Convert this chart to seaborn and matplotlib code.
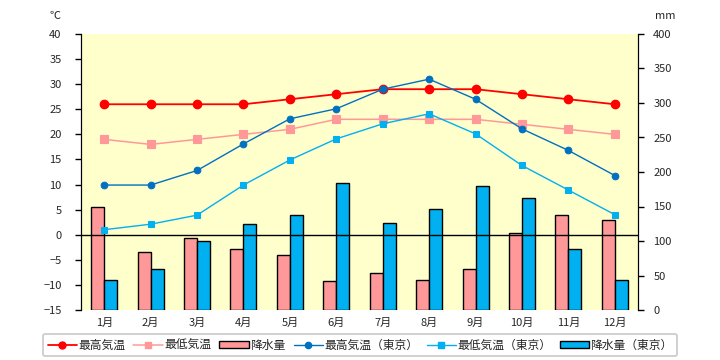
import numpy as np
import pandas as pd
import matplotlib
matplotlib.use("Agg")
import matplotlib.pyplot as plt
import seaborn as sns
from matplotlib.lines import Line2D
from matplotlib.patches import Patch

# データ
months = ["1月", "2月", "3月", "4月", "5月", "6月", "7月", "8月", "9月", "10月", "11月", "12月"]
max_temp = [26, 26, 26, 26, 27, 28, 29, 29, 29, 28, 27, 26]
min_temp = [19, 18, 19, 20, 21, 23, 23, 23, 23, 22, 21, 20]
rain = [149, 84, 105, 88, 79, 42, 53, 44, 59, 111, 137, 130]
max_temp_tokyo = [9.9, 9.9, 12.8, 18.1, 23.1, 25.1, 29, 31, 27, 21.1, 16.8, 11.8]
min_temp_tokyo = [1, 2.1, 3.9, 9.9, 14.9, 19.1, 22.1, 24.1, 20.1, 13.8, 8.9, 4]
rain_tokyo = [44, 59, 100, 124, 137, 184, 126, 147, 179, 163, 88, 44]

sns.set_style("white")
plt.rcParams["font.family"] = ["Noto Sans CJK JP", "DejaVu Sans"]
plt.rcParams["font.size"] = 8

fig = plt.figure(figsize=(7.2, 3.6), dpi=100)
ax2 = fig.add_axes([81 / 720, 1 - 310 / 360, 557 / 720, 276 / 360])
ax = ax2.twinx()
ax.set_zorder(ax2.get_zorder() + 1)
ax.patch.set_visible(False)
ax2.set_facecolor("#FFFFCC")

# 降水量 (右軸)
df_rain = pd.DataFrame({
    "month": months * 2,
    "mm": rain + rain_tokyo,
    "series": ["降水量"] * 12 + ["降水量（東京）"] * 12,
})
sns.barplot(data=df_rain, x="month", y="mm", hue="series",
            palette=["#FF9999", "#00B0F0"], saturation=1, width=0.56,
            edgecolor="black", linewidth=1, ax=ax2, legend=False)
ax2.set_ylim(0, 400)
ax2.set_yticks(np.arange(0, 401, 50))
ax2.yaxis.tick_right()

# 気温 (左軸)
ax.axhline(0, color="black", lw=1, zorder=1)
sns.pointplot(x=months, y=max_temp, color="#FF0000", markers="o",
              markersize=6, linewidth=1.3, ax=ax, zorder=3)
sns.pointplot(x=months, y=min_temp, color="#FF9999", markers="s",
              markersize=6, linewidth=1.1, ax=ax, zorder=3)
sns.pointplot(x=months, y=max_temp_tokyo, color="#0070C0", markers="o",
              markersize=4.8, linewidth=1, ax=ax, zorder=3)
sns.pointplot(x=months, y=min_temp_tokyo, color="#00B0F0", markers="s",
              markersize=5, linewidth=1, ax=ax, zorder=3)
ax.set_ylim(-15, 40)
ax.set_yticks(np.arange(-15, 41, 5))
ax.yaxis.tick_left()
ax.set_xlim(-0.5, 11.5)

for a in (ax, ax2):
    a.set_xlabel("")
    a.set_ylabel("")
    a.spines["top"].set_visible(False)
    a.spines["bottom"].set_visible(False)
    a.spines["left"].set_color("black")
    a.spines["right"].set_color("black")
    a.tick_params(axis="y", length=4, width=1, color="black", labelsize=8)
    a.tick_params(axis="x", length=0, pad=6, labelsize=8)
ax.tick_params(axis="y", pad=10)
ax2.tick_params(axis="y", pad=7)

fig.text(55 / 720, 1 - 16 / 360, "℃", ha="center", va="center", fontsize=8)
fig.text(665 / 720, 1 - 16 / 360, "mm", ha="center", va="center", fontsize=8)

handles = [
    Line2D([], [], color="#FF0000", marker="o", markersize=5, lw=1.3),
    Line2D([], [], color="#FF9999", marker="s", markersize=5, lw=1.1),
    Patch(facecolor="#FF9999", edgecolor="black"),
    Line2D([], [], color="#0070C0", marker="o", markersize=4.5, lw=1),
    Line2D([], [], color="#00B0F0", marker="s", markersize=4.5, lw=1),
    Patch(facecolor="#00B0F0", edgecolor="black"),
]
labels = ["最高気温", "最低気温", "降水量", "最高気温（東京）", "最低気温（東京）", "降水量（東京）"]
leg = fig.legend(handles, labels, loc="center", bbox_to_anchor=(0.5, 1 - 345 / 360),
                 ncol=6, fontsize=8.5, frameon=True, fancybox=True,
                 edgecolor="#BBBBBB", handlelength=2.5, handleheight=0.5,
                 handletextpad=0.1, columnspacing=0.7, borderpad=0.4)
leg.get_frame().set_linewidth(1.2)

fig.savefig("out.png", dpi=100)
